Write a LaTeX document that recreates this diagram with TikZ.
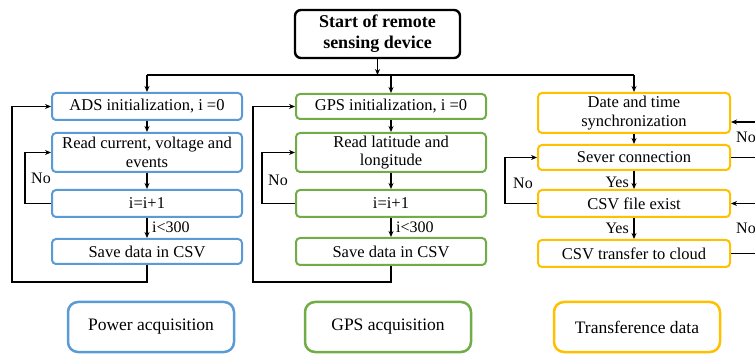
\documentclass[tikz,border=0pt]{standalone}
\usepackage{fontspec}
\setmainfont{Liberation Serif}
\usetikzlibrary{arrows.meta}
\definecolor{boxblue}{HTML}{5B9BD5}
\definecolor{boxgreen}{HTML}{70AD47}
\definecolor{boxgold}{HTML}{FFC000}
\begin{document}
\begin{tikzpicture}[x=1pt,y=-1pt,
  box/.style={draw, rounded corners=4pt, line width=2pt, fill=white, inner sep=0pt,
    align=center, minimum width=190pt, font=\fontsize{16.5}{18.5}\selectfont},
  legend/.style={draw, rounded corners=10pt, line width=2.5pt, fill=white, inner sep=0pt,
    minimum width=166pt, minimum height=50pt, font=\fontsize{17.5}{20}\selectfont},
  flow/.style={line width=1.6pt, -{Stealth[length=6pt,width=5pt]}},
  plain/.style={line width=1.6pt},
  lbl/.style={font=\fontsize{16}{18}\selectfont, inner sep=0pt}]
\useasboundingbox (0,0) rectangle (755,355);
\clip (0,0) rectangle (755,355);

% start node
\node[draw, line width=2.4pt, rounded corners=6pt, minimum width=165pt, minimum height=48pt,
  align=center, inner sep=0pt, font=\bfseries\fontsize{18}{21}\selectfont]
  (start) at (377.5,34) {Start of remote\\sensing device};

% power acquisition column
\node[box, draw=boxblue, minimum height=27pt] (ads) at (147,106.5) {ADS initialization, i =0};
\node[box, draw=boxblue, minimum height=39pt] (readA) at (147,152.5) {Read current, voltage and\\events};
\node[box, draw=boxblue, minimum height=27pt] (incA) at (147,203.5) {i=i+1};
\node[box, draw=boxblue, minimum height=25pt] (saveA) at (147,251.5) {Save data in CSV};

% GPS column
\node[box, draw=boxgreen, minimum height=25pt] (gps) at (391,106.5) {GPS initialization, i =0};
\node[box, draw=boxgreen, minimum height=39pt] (readB) at (391,152.5) {Read latitude and\\longitude};
\node[box, draw=boxgreen, minimum height=27pt] (incB) at (391,203.5) {i=i+1};
\node[box, draw=boxgreen, minimum height=27pt] (saveB) at (391,251.5) {Save data in CSV};

% transfer column
\node[box, draw=boxgold, minimum width=192pt, minimum height=40pt] (date) at (634,113) {Date and time\\synchronization};
\node[box, draw=boxgold, minimum width=192pt, minimum height=25pt] (sever) at (634,157.5) {Sever connection};
\node[box, draw=boxgold, minimum width=192pt, minimum height=27pt] (exist) at (634,203.5) {CSV file exist};
\node[box, draw=boxgold, minimum width=192pt, minimum height=27pt] (cloud) at (634,253.5) {CSV transfer to cloud};

% legend
\node[legend, draw=boxblue] (lgA) at (151,327) {Power acquisition};
\node[legend, draw=boxgreen] (lgB) at (388,327) {GPS acquisition};
\node[legend, draw=boxgold] (lgC) at (637,327) {Transference data};

% distribution bus
\coordinate (busL) at (147,75);
\coordinate (busR) at (634,75);
\draw[plain] (busL) -- (busR);
\draw[flow] (start.south) -- (start.south |- busL);
\draw[flow] (busL) -- (ads.north);
\draw[flow] (gps.north |- busL) -- (gps.north);
\draw[flow] (busR) -- (date.north);

% power column flow
\coordinate (loopA) at (12,282);
\coordinate (noA) at (25,180);
\draw[flow] (ads) -- (readA);
\draw[flow] (readA) -- (incA);
\draw[flow] (incA) -- (saveA);
\draw[flow] (incA.west) -| (noA) |- (readA.west);
\draw[flow] (saveA.south) |- (loopA) |- (ads.west);
\node[lbl] (lblNoA) at (41,178) {No};
\node[lbl, anchor=west] (lblLtA) at (152,227) {i<300};

% GPS column flow
\coordinate (loopB) at (253,282);
\coordinate (noB) at (262,180);
\draw[flow] (gps) -- (readB);
\draw[flow] (readB) -- (incB);
\draw[flow] (incB) -- (saveB);
\draw[flow] (incB.west) -| (noB) |- (readB.west);
\draw[flow] (saveB.south) |- (loopB) |- (gps.west);
\node[lbl] (lblNoB) at (278,180) {No};
\node[lbl, anchor=west] (lblLtB) at (396,227) {i<300};

% transfer column flow
\coordinate (noC) at (505,180);
\draw[flow] (date) -- (sever);
\draw[flow] (sever) -- (exist);
\draw[flow] (exist) -- (cloud);
\draw[flow] (exist.west) -| (noC) |- (sever.west);
\node[lbl, anchor=east] (lblYesA) at (629,182) {Yes};
\node[lbl, anchor=east] (lblYesB) at (629,228) {Yes};
\node[lbl] (lblNoC) at (523,183) {No};

% connections leaving to the right
\coordinate (edgeDate) at (760,122);
\coordinate (edgeSever) at (760,157.5);
\coordinate (edgeExist) at (760,203.5);
\coordinate (edgeCloud) at (760,253.5);
\draw[flow] (edgeDate) -- (date.east |- edgeDate);
\draw[plain] (sever.east) -- (edgeSever);
\draw[flow] (edgeExist) -- (exist.east);
\draw[plain] (cloud.east) -- (edgeCloud);
\node[lbl, anchor=west] (lblNoD) at (736,137) {No};
\node[lbl, anchor=west] (lblNoE) at (736,228) {No};
\end{tikzpicture}
\end{document}
